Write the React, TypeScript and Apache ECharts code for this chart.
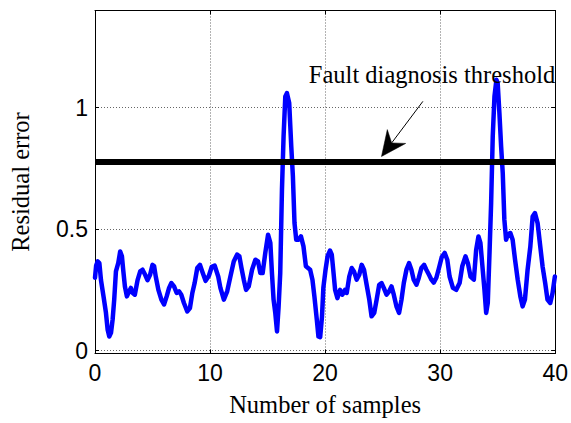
import React, { useEffect, useRef } from "react";
import * as echarts from "echarts";

// Sample index (x) and residual error (y)
const sampleX = [
  0, 0.1, 0.23, 0.38, 0.52, 0.75, 0.95, 1.1, 1.24, 1.39, 1.53, 1.67, 1.82, 2.02, 2.19, 2.34, 2.45, 2.6, 2.77, 2.97,
  3.12, 3.26, 3.46, 3.7, 3.93, 4.13, 4.36, 4.56, 4.79, 5.0, 5.14, 5.28, 5.51, 5.77, 6.0, 6.23, 6.44, 6.64, 6.87, 7.1,
  7.3, 7.5, 7.73, 8.02, 8.25, 8.46, 8.66, 8.89, 9.12, 9.32, 9.61, 9.9, 10.15, 10.4, 10.71, 10.9, 11.2, 11.49, 11.77, 12.06,
  12.35, 12.55, 12.73, 12.93, 13.13, 13.36, 13.65, 13.94, 14.17, 14.37, 14.57, 14.8, 15.04, 15.24, 15.38, 15.52, 15.67, 15.82, 15.96, 16.1,
  16.25, 16.39, 16.54, 16.68, 16.88, 17.06, 17.2, 17.34, 17.49, 17.69, 17.9, 18.12, 18.33, 18.7, 18.9, 19.07, 19.28, 19.42, 19.57, 19.73,
  19.85, 20.03, 20.22, 20.43, 20.58, 20.72, 20.87, 21.07, 21.3, 21.5, 21.73, 21.88, 22.1, 22.31, 22.51, 22.74, 22.97, 23.18, 23.38, 23.61,
  23.84, 24.04, 24.27, 24.48, 24.7, 24.91, 25.1, 25.34, 25.57, 25.77, 25.97, 26.2, 26.43, 26.64, 26.84, 27.07, 27.3, 27.5, 27.7, 27.94,
  28.14, 28.37, 28.6, 28.8, 29.03, 29.24, 29.44, 29.67, 29.88, 30.14, 30.39, 30.62, 30.82, 31.11, 31.4, 31.69, 31.92, 32.2, 32.41, 32.64,
  32.93, 33.13, 33.33, 33.5, 33.65, 33.85, 34.0, 34.14, 34.29, 34.43, 34.57, 34.72, 34.89, 35.0, 35.15, 35.3, 35.44, 35.58, 35.73, 35.87,
  36.1, 36.3, 36.51, 36.74, 36.97, 37.17, 37.37, 37.6, 37.84, 38.04, 38.24, 38.47, 38.7, 38.9, 39.13, 39.33, 39.57, 39.77, 39.97,
];
const residual = [
  0.3, 0.35, 0.367, 0.36, 0.29, 0.22, 0.156, 0.086, 0.058, 0.073, 0.127, 0.21, 0.326, 0.36, 0.408, 0.388, 0.333, 0.264, 0.223, 0.244,
  0.258, 0.238, 0.23, 0.29, 0.326, 0.333, 0.312, 0.29, 0.312, 0.353, 0.347, 0.305, 0.25, 0.21, 0.19, 0.223, 0.258, 0.278, 0.264, 0.237,
  0.244, 0.23, 0.196, 0.161, 0.175, 0.237, 0.278, 0.34, 0.353, 0.326, 0.287, 0.308, 0.345, 0.35, 0.305, 0.258, 0.21, 0.244, 0.305, 0.367,
  0.395, 0.388, 0.34, 0.292, 0.25, 0.264, 0.333, 0.374, 0.367, 0.319, 0.319, 0.402, 0.477, 0.443, 0.319, 0.21, 0.155, 0.079, 0.182, 0.319,
  0.662, 0.881, 1.046, 1.06, 1.019, 0.84, 0.717, 0.525, 0.456, 0.456, 0.47, 0.429, 0.347, 0.333, 0.292, 0.223, 0.127, 0.058, 0.055, 0.14,
  0.26, 0.33, 0.39, 0.412, 0.395, 0.326, 0.25, 0.216, 0.25, 0.23, 0.25, 0.237, 0.305, 0.34, 0.326, 0.292, 0.312, 0.353, 0.333, 0.271,
  0.21, 0.141, 0.155, 0.21, 0.271, 0.278, 0.258, 0.23, 0.244, 0.264, 0.23, 0.182, 0.155, 0.21, 0.278, 0.333, 0.36, 0.333, 0.292, 0.271,
  0.299, 0.34, 0.353, 0.333, 0.312, 0.292, 0.28, 0.3, 0.337, 0.385, 0.402, 0.374, 0.305, 0.258, 0.25, 0.278, 0.347, 0.388, 0.36, 0.305,
  0.292, 0.415, 0.47, 0.443, 0.36, 0.25, 0.155, 0.196, 0.402, 0.607, 0.881, 1.046, 1.115, 1.101, 0.978, 0.84, 0.731, 0.539, 0.456, 0.477,
  0.484, 0.456, 0.374, 0.292, 0.223, 0.182, 0.21, 0.333, 0.429, 0.552, 0.566, 0.525, 0.429, 0.347, 0.278, 0.21, 0.196, 0.237, 0.305,
];
const thresholdValue = 0.776;
const thresholdSpan = [0, 40];

const xRange = [0, 40];
const yRange = [-0.012, 1.4];

const xTitle = "Number of samples";
const yTitle = "Residual error";
const annotationText = "Fault diagnosis threshold";
// annotation anchors in data coordinates
const annotationTextAnchor = [40, 1.102]; // right end of text baseline
const arrowStart = [28.5, 1.026];
const arrowTip = [24.9, 0.799];

const SANS = '"Liberation Sans", Arial, sans-serif';
const SERIF = '"Liberation Serif", "Times New Roman", serif';

export default function App() {
  const ref = useRef<HTMLDivElement>(null);

  useEffect(() => {
    if (!ref.current) return;
    const chart = echarts.init(ref.current, undefined, { renderer: "svg" });

    const gridLine = { show: true, lineStyle: { color: "#666", width: 1, type: [1, 2] as any } };
    const axisLine = { show: true, onZero: false, lineStyle: { color: "#000", width: 1 } };
    const tick = { show: true, inside: true, length: 4, lineStyle: { color: "#000", width: 1 } };

    chart.setOption({
      animation: false,
      backgroundColor: "#fff",
      grid: { left: 94, right: 15, top: 10.5, bottom: 69.5, containLabel: false },
      xAxis: [
        {
          type: "value",
          position: "bottom",
          min: xRange[0],
          max: xRange[1],
          interval: 10,
          axisLine,
          axisTick: tick,
          splitLine: gridLine,
          axisLabel: { color: "#000", fontFamily: SANS, fontSize: 23, margin: 8 },
          name: xTitle,
          nameLocation: "middle",
          nameGap: 38,
          nameTextStyle: { color: "#000", fontFamily: SERIF, fontSize: 24.5 },
        },
        {
          type: "value",
          position: "top",
          min: xRange[0],
          max: xRange[1],
          interval: 10,
          axisLine,
          axisTick: tick,
          splitLine: { show: false },
          axisLabel: { show: false },
        },
      ],
      yAxis: [
        {
          type: "value",
          position: "left",
          min: yRange[0],
          max: yRange[1],
          splitNumber: 3,
          axisLine,
          axisTick: tick,
          splitLine: gridLine,
          axisLabel: {
            color: "#000",
            fontFamily: SANS,
            fontSize: 23,
            margin: 7,
            showMinLabel: false,
            showMaxLabel: false,
            formatter: (v: number) => (Math.abs(v) < 1e-9 ? "0" : String(v)),
          },
          name: yTitle,
          nameLocation: "middle",
          nameRotate: 90,
          nameGap: 62,
          nameTextStyle: { color: "#000", fontFamily: SERIF, fontSize: 24.5 },
        },
        {
          type: "value",
          position: "right",
          min: yRange[0],
          max: yRange[1],
          splitNumber: 3,
          axisLine,
          axisTick: tick,
          splitLine: { show: false },
          axisLabel: { show: false },
        },
      ],
      series: [
        {
          type: "line",
          name: "Residual",
          data: sampleX.map((x, i) => [x, residual[i]]),
          symbol: "none",
          showSymbol: false,
          lineStyle: { color: "#0000ff", width: 4.5, join: "round", cap: "round" },
          silent: true,
        },
        {
          type: "line",
          name: "Threshold",
          data: thresholdSpan.map((x) => [x, thresholdValue]),
          symbol: "none",
          showSymbol: false,
          lineStyle: { color: "#000", width: 6 },
          silent: true,
        },
      ],
    });

    const toPx = (p: number[]) => chart.convertToPixel({ seriesIndex: 0 }, p) as number[];
    const tAnchor = toPx(annotationTextAnchor);
    const s = toPx(arrowStart);
    const t = toPx(arrowTip);
    const dx = s[0] - t[0];
    const dy = s[1] - t[1];
    const len = Math.hypot(dx, dy);
    const ux = dx / len;
    const uy = dy / len;
    const nx = -uy;
    const ny = ux;
    const headL = 25;
    const headW = 11.5;
    const notchL = 17;
    const c1 = [t[0] + ux * headL + nx * headW, t[1] + uy * headL + ny * headW];
    const c2 = [t[0] + ux * headL - nx * headW, t[1] + uy * headL - ny * headW];
    const notch = [t[0] + ux * notchL, t[1] + uy * notchL];

    chart.setOption({
      graphic: [
        {
          type: "text",
          x: tAnchor[0],
          y: tAnchor[1] - 8,
          style: {
            text: annotationText,
            fill: "#000",
            font: `24.5px ${SERIF}`,
            textAlign: "right",
            textVerticalAlign: "middle",
          },
          z: 10,
        },
        {
          type: "line",
          shape: { x1: s[0], y1: s[1], x2: notch[0], y2: notch[1] },
          style: { stroke: "#000", lineWidth: 1 },
          z: 10,
        },
        {
          type: "polygon",
          shape: { points: [t, c1, notch, c2] },
          style: { fill: "#000", stroke: "#000", lineWidth: 0.5 },
          z: 10,
        },
      ],
    });

    return () => chart.dispose();
  }, []);

  return (
    <div
      ref={ref}
      style={{ position: "fixed", left: 0, top: 0, width: 571, height: 423, background: "#fff" }}
    />
  );
}
